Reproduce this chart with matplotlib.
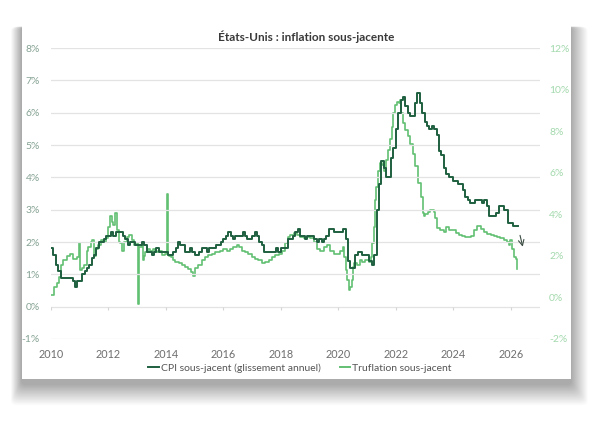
import numpy as np
import matplotlib
matplotlib.use("Agg")
from matplotlib import pyplot as plt
from matplotlib.patches import FancyBboxPatch, Rectangle

plt.rcParams['font.family'] = ['Lato', 'DejaVu Sans']

# CPI sous-jacent, glissement annuel, mensuel a partir de janvier 2010 (%)
cpi = [1.8,
       1.6, 1.3, 1.1, 0.9, 0.9, 0.9, 0.9, 0.9, 0.8, 0.6, 0.8, 0.8,
       1.0, 1.1, 1.2, 1.3, 1.5, 1.6, 1.8, 2.0, 2.0, 2.1, 2.2, 2.2,
       2.3, 2.2, 2.3, 2.3, 2.3, 2.2, 2.1, 1.9, 2.0, 2.0, 1.9, 1.9,
       1.9, 2.0, 1.9, 1.7, 1.7, 1.6, 1.7, 1.8, 1.7, 1.7, 1.7, 1.7,
       1.6, 1.6, 1.7, 1.8, 2.0, 1.9, 1.9, 1.7, 1.7, 1.8, 1.7, 1.6,
       1.6, 1.7, 1.8, 1.8, 1.7, 1.8, 1.8, 1.8, 1.9, 1.9, 2.0, 2.1,
       2.2, 2.3, 2.2, 2.1, 2.2, 2.2, 2.2, 2.3, 2.2, 2.1, 2.1, 2.2,
       2.3, 2.2, 2.0, 1.9, 1.7, 1.7, 1.7, 1.7, 1.7, 1.8, 1.7, 1.8,
       1.8, 1.8, 2.1, 2.1, 2.2, 2.3, 2.4, 2.2, 2.2, 2.1, 2.2, 2.2,
       2.2, 2.1, 2.0, 2.1, 2.0, 2.1, 2.2, 2.4, 2.4, 2.3, 2.3, 2.3,
       2.3, 2.4, 2.1, 1.4, 1.2, 1.2, 1.6, 1.7, 1.7, 1.6, 1.6, 1.6,
       1.4, 1.3, 1.6, 3.0, 3.8, 4.5, 4.3, 4.0, 4.0, 4.6, 4.9, 5.5,
       6.0, 6.4, 6.5, 6.2, 6.0, 5.9, 5.9, 6.3, 6.6, 6.3, 6.0, 5.7,
       5.6, 5.5, 5.6, 5.5, 5.3, 4.8, 4.7, 4.3, 4.1, 4.0, 4.0, 3.9,
       3.9, 3.8, 3.8, 3.6, 3.4, 3.3, 3.2, 3.2, 3.3, 3.3, 3.3, 3.2,
       3.3, 3.1, 2.8, 2.8, 2.8, 2.9, 3.1, 3.1, 3.0, 3.0, 2.6, 2.6,
       2.5, 2.5, 2.5]
cpi_x = 2010 + np.arange(len(cpi)) / 12

# Truflation sous-jacent (axe de droite, %)
truf_x = [2010.00, 2010.10, 2010.12, 2010.20, 2010.28, 2010.35, 2010.43, 2010.55, 2010.66, 2010.78,
          2010.90, 2010.97, 2010.99, 2011.02, 2011.09, 2011.16, 2011.24, 2011.30, 2011.38, 2011.44,
          2011.49, 2011.56, 2011.65, 2011.74, 2011.82, 2011.90, 2011.99, 2012.05, 2012.11, 2012.17,
          2012.23, 2012.28, 2012.35, 2012.41, 2012.48, 2012.55, 2012.64, 2012.72, 2012.81, 2012.90,
          2013.00, 2013.03, 2013.04, 2013.05, 2013.09, 2013.16, 2013.20, 2013.23, 2013.28, 2013.36,
          2013.45, 2013.54, 2013.62, 2013.74, 2013.86, 2013.97, 2014.04, 2014.05, 2014.055, 2014.10,
          2014.17, 2014.24, 2014.32, 2014.44, 2014.55, 2014.67, 2014.78, 2014.87, 2014.94, 2015.02,
          2015.13, 2015.25, 2015.37, 2015.48, 2015.60, 2015.71, 2015.89, 2016.00, 2016.12, 2016.24,
          2016.35, 2016.47, 2016.53, 2016.64, 2016.76, 2016.87, 2016.99, 2017.11, 2017.22, 2017.34,
          2017.46, 2017.57, 2017.69, 2017.80, 2017.92, 2018.04, 2018.15, 2018.25, 2018.33, 2018.44,
          2018.56, 2018.68, 2018.79, 2018.91, 2019.02, 2019.14, 2019.26, 2019.37, 2019.49, 2019.61,
          2019.72, 2019.84, 2019.95, 2020.07, 2020.16, 2020.21, 2020.25, 2020.30, 2020.36, 2020.42,
          2020.46, 2020.50, 2020.56, 2020.65, 2020.74, 2020.83, 2020.94, 2021.06, 2021.14, 2021.18,
          2021.23, 2021.28, 2021.32, 2021.37, 2021.44, 2021.52, 2021.58, 2021.65, 2021.72, 2021.79,
          2021.86, 2021.91, 2021.98, 2022.05, 2022.10, 2022.14, 2022.19, 2022.25, 2022.33, 2022.41,
          2022.51, 2022.60, 2022.68, 2022.76, 2022.86, 2022.95, 2022.98, 2023.03, 2023.11, 2023.20,
          2023.32, 2023.38, 2023.44, 2023.55, 2023.67, 2023.75, 2023.84, 2023.96, 2024.08, 2024.19,
          2024.31, 2024.42, 2024.60, 2024.71, 2024.83, 2024.95, 2025.06, 2025.18, 2025.30, 2025.41,
          2025.53, 2025.64, 2025.76, 2025.88, 2025.93, 2025.99, 2026.05, 2026.11, 2026.17, 2026.23]
truf = [0.1, 0.1, 0.5, 0.7, 1.0, 1.55, 1.8, 2.0, 2.1, 1.85,
        1.95, 2.0, 2.6, 1.3, 1.4, 1.55, 2.25, 2.45, 2.65, 2.75,
        2.0, 2.35, 2.5, 2.75, 2.65, 2.85, 3.4, 3.9, 3.65, 3.5,
        4.05, 3.25, 2.65, 2.6, 2.25, 2.65, 2.9, 3.0, 2.75, 2.5,
        2.6, 2.6, -0.3, 2.45, 2.45, 2.5, 1.8, 2.0, 2.2, 2.35,
        2.25, 2.35, 2.2, 2.25, 2.05, 2.1, 2.1, 5.0, 2.05, 2.0,
        1.95, 1.8, 1.7, 1.65, 1.55, 1.45, 1.35, 1.2, 1.05, 1.4,
        1.55, 1.8, 1.95, 2.05, 2.1, 2.2, 2.25, 2.35, 2.25, 2.35,
        2.45, 2.5, 2.45, 2.25, 2.2, 2.1, 1.95, 1.85, 1.8, 1.65,
        1.7, 1.8, 1.95, 2.05, 2.1, 2.25, 2.6, 2.9, 3.0, 3.1,
        3.0, 2.9, 2.85, 2.9, 2.85, 2.65, 2.35, 2.25, 2.45, 2.5,
        2.25, 2.1, 2.1, 2.25, 2.45, 1.95, 1.3, 0.85, 0.35, 0.5,
        0.85, 1.45, 1.65, 1.55, 1.8, 1.7, 1.8, 1.7, 1.95, 2.6,
        3.4, 4.7, 5.3, 6.1, 6.45, 6.35, 6.1, 6.6, 7.1, 7.6,
        8.2, 8.85, 9.25, 9.4, 9.35, 9.5, 8.85, 8.4, 8.05, 7.75,
        7.4, 6.9, 6.3, 5.5, 4.85, 4.05, 3.9, 4.0, 4.1, 4.2,
        4.1, 3.8, 3.35, 3.25, 3.15, 3.4, 3.25, 3.25, 3.1, 3.0,
        2.95, 2.9, 2.95, 3.25, 3.45, 3.3, 3.15, 3.05, 3.0, 2.95,
        2.9, 2.85, 2.75, 2.65, 2.5, 2.75, 2.35, 1.95, 1.85, 1.35]

left_ticks = [-1, 0, 1, 2, 3, 4, 5, 6, 7, 8]
right_ticks = [-2, 0, 2, 4, 6, 8, 10, 12]
year_ticks = [2010, 2012, 2014, 2016, 2018, 2020, 2022, 2024, 2026]

dark = '#1e6040'
light = '#62c073'

W, H = 613, 422
fig = plt.figure(figsize=(W / 100, H / 100), dpi=100)

# carte blanche avec ombre portee douce
cx0, cy0, cx1, cy1 = 21.5, 21.7, 571, 379.3
n = 28
for i in range(n):
    s = (n - i) * 0.75
    fig.patches.append(FancyBboxPatch(((cx0 - s * 0.5) / W, 1 - (cy1 + s * 1.0 + 5) / H),
                                      (cx1 - cx0 + s * 1.3) / W, (cy1 - cy0 + s * 1.0) / H,
                                      boxstyle='round,pad=0,rounding_size=0.01',
                                      transform=fig.transFigure, facecolor='black',
                                      alpha=0.011, edgecolor='none', zorder=0))
fig.patches.append(Rectangle((cx0 / W, 1 - cy1 / H), (cx1 - cx0) / W, (cy1 - cy0) / H,
                             transform=fig.transFigure, facecolor='white',
                             edgecolor='none', zorder=1))

ax = fig.add_axes([51 / W, 1 - 339 / H, (539.5 - 51) / W, (339 - 48) / H])
ax.set_zorder(3)
ax2 = ax.twinx()
ax2.set_zorder(2)
ax.patch.set_visible(False)
ax2.patch.set_visible(False)

ax2.plot(truf_x, truf, color=light, lw=1.2, drawstyle='steps-post')
ax.plot(cpi_x, cpi, color=dark, lw=1.4, drawstyle='steps-post')

ax.set_xlim(2010, 2027)
ax.set_ylim(-1, 8)
ax2.set_ylim(-2, 12)

ax.set_yticks(left_ticks)
ax.set_yticklabels([f'{t}%' for t in left_ticks])
ax2.set_yticks(right_ticks)
ax2.set_yticklabels([f'{t}%' for t in right_ticks])
ax.set_xticks(year_ticks)
ax.set_xticklabels([str(y) for y in year_ticks])

for t in left_ticks:
    ax.axhline(t, color='#e3e3e3', lw=0.9, zorder=0)
ax.vlines(year_ticks, -0.1, 0, color='#d5d5d5', lw=0.8)

for a in (ax, ax2):
    for sp in a.spines.values():
        sp.set_visible(False)
ax.tick_params(axis='y', length=0, pad=8, labelsize=7.5, labelcolor='#86a394')
ax2.tick_params(axis='y', length=0, pad=7, labelsize=7.5, labelcolor='#a3d9ad')
ax.tick_params(axis='x', length=0, pad=7, labelsize=7.8, labelcolor='#6e6e6e')

ax.annotate('', xy=(2026.44, 1.77), xytext=(2026.30, 2.29),
            arrowprops=dict(arrowstyle='->', color='#3d4d44', lw=0.8))

fig.text(0.5, 1 - 37 / H, 'États-Unis : inflation sous-jacente', ha='center', va='center',
         fontsize=8.5, fontweight='bold', color='#3a3a3a')

h1, = ax.plot([], [], color=dark, lw=1.4)
h2, = ax.plot([], [], color=light, lw=1.4)
fig.legend([h1, h2], ['CPI sous-jacent (glissement annuel)', 'Truflation sous-jacent'],
           loc='center', bbox_to_anchor=(300 / W, 1 - 368 / H), ncol=2, frameon=False,
           fontsize=7.5, handlelength=1.0, handletextpad=0.2, columnspacing=1.8,
           labelcolor='#555555')

fig.savefig('out.png', dpi=100)
